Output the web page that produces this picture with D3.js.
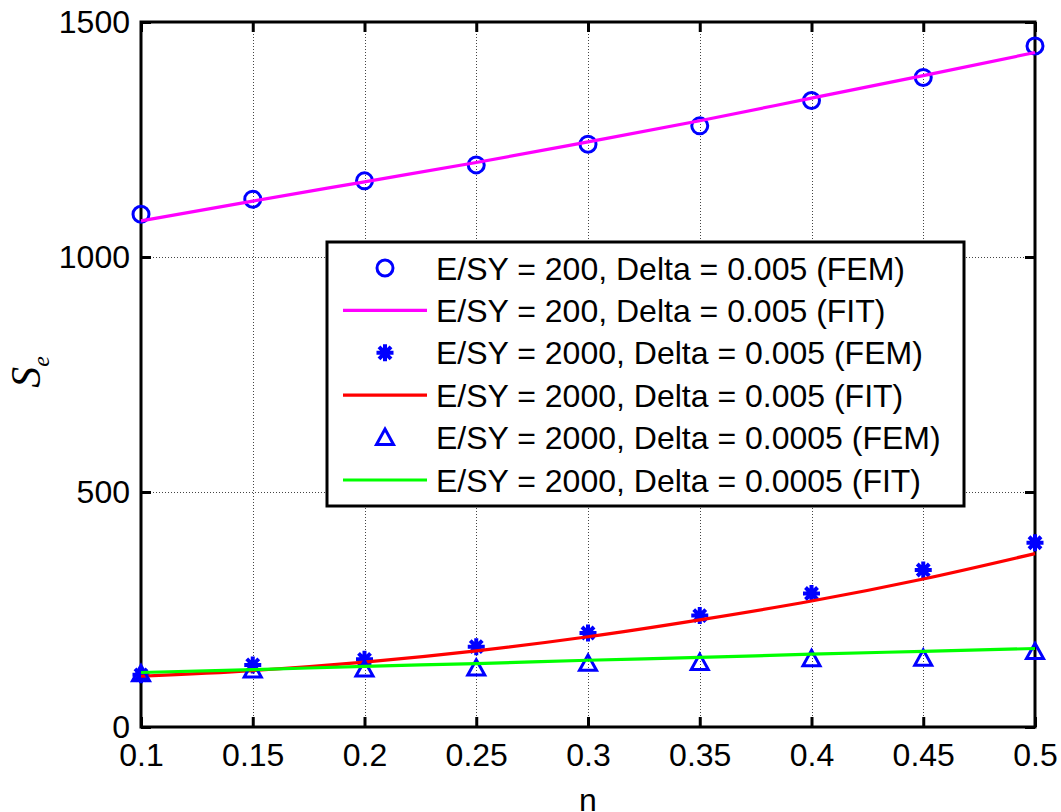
<!DOCTYPE html>
<html>
<head>
<meta charset="utf-8">
<script src="https://cdn.jsdelivr.net/npm/d3@7"></script>
<style>
  html, body { margin: 0; padding: 0; background: #fff; }
  svg { display: block; font-family: "Liberation Sans", Arial, sans-serif; }
</style>
</head>
<body>
<svg id="chart" width="1061" height="812"></svg>
<script>
// Hardening exponent n on the x axis
const nValues = [0.1, 0.15, 0.2, 0.25, 0.3, 0.35, 0.4, 0.45, 0.5];

// E/SY = 200, Delta = 0.005
const femA = [1091, 1123, 1162, 1196, 1240, 1279, 1333, 1382, 1449];
const fitA = [1077, 1119, 1160, 1201, 1245, 1290, 1338, 1386, 1435];

// E/SY = 2000, Delta = 0.005
const femB = [111, 132, 144, 171, 200, 237, 284, 334, 392];
const fitB = [108, 120, 138, 162, 192, 228, 268, 315, 369];

// E/SY = 2000, Delta = 0.0005
const femC = [113, 121, 123, 125, 135, 137, 145, 146, 160];
const fitC = [116, 122, 129, 135, 142, 148, 155, 161, 167];

const xTicks = [0.1, 0.15, 0.2, 0.25, 0.3, 0.35, 0.4, 0.45, 0.5];
const yTicks = [0, 500, 1000, 1500];

const legendLabels = [
  "E/SY = 200, Delta = 0.005 (FEM)",
  "E/SY = 200, Delta = 0.005 (FIT)",
  "E/SY = 2000, Delta = 0.005 (FEM)",
  "E/SY = 2000, Delta = 0.005 (FIT)",
  "E/SY = 2000, Delta = 0.0005 (FEM)",
  "E/SY = 2000, Delta = 0.0005 (FIT)"
];

const plot = { left: 141, right: 1035, top: 22, bottom: 727 };
const svg = d3.select("#chart");

const x = d3.scaleLinear().domain([0.1, 0.5]).range([plot.left, plot.right]);
const y = d3.scaleLinear().domain([0, 1500]).range([plot.bottom, plot.top]);

// dotted grid
const grid = svg.append("g").attr("stroke", "#444").attr("stroke-width", 1)
  .attr("stroke-dasharray", "1,2");
grid.selectAll("line.vx").data(xTicks.slice(1, -1)).join("line")
  .attr("x1", d => Math.round(x(d)) + 0.5).attr("x2", d => Math.round(x(d)) + 0.5)
  .attr("y1", plot.top).attr("y2", plot.bottom);
grid.selectAll("line.hy").data(yTicks.slice(1, -1)).join("line")
  .attr("x1", plot.left).attr("x2", plot.right)
  .attr("y1", d => Math.round(y(d)) + 0.5).attr("y2", d => Math.round(y(d)) + 0.5);

// axes with inward ticks on all four sides
const fmtX = d => String(d);
const axB = svg.append("g").attr("transform", `translate(0,${plot.bottom})`)
  .call(d3.axisBottom(x).tickValues(xTicks).tickFormat(fmtX).tickSize(-10).tickPadding(16));
const axT = svg.append("g").attr("transform", `translate(0,${plot.top})`)
  .call(d3.axisTop(x).tickValues(xTicks).tickFormat("").tickSize(-10));
const axL = svg.append("g").attr("transform", `translate(${plot.left},0)`)
  .call(d3.axisLeft(y).tickValues(yTicks).tickFormat(d3.format("d")).tickSize(-10).tickPadding(11));
const axR = svg.append("g").attr("transform", `translate(${plot.right},0)`)
  .call(d3.axisRight(y).tickValues(yTicks).tickFormat("").tickSize(-10));

[axB, axT, axL, axR].forEach(a => {
  a.select(".domain").remove();
  a.selectAll(".tick line").attr("stroke", "#000").attr("stroke-width", 3);
  a.selectAll(".tick text").attr("fill", "#000").attr("font-size", 32)
    .attr("font-family", "'Liberation Sans', Arial, sans-serif");
});

// frame
svg.append("rect")
  .attr("x", plot.left).attr("y", plot.top)
  .attr("width", plot.right - plot.left).attr("height", plot.bottom - plot.top)
  .attr("fill", "none").attr("stroke", "#000").attr("stroke-width", 3);

// marker painters
function circleMarker(g) {
  g.append("circle").attr("r", 8).attr("fill", "none")
    .attr("stroke", "#0000ff").attr("stroke-width", 3);
}
function starMarker(g) {
  const r = 8.5;
  const k = r * Math.SQRT1_2;
  g.append("path").attr("fill", "none").attr("stroke", "#0000ff")
    .attr("stroke-width", 4).attr("stroke-linecap", "butt")
    .attr("d", `M${-r},0H${r}M0,${-r}V${r}M${-k},${-k}L${k},${k}M${-k},${k}L${k},${-k}`);
}
function triangleMarker(g) {
  const s = 8.5;
  g.append("path")
    .attr("d", `M0,${-s}L${s},${s * 0.8}L${-s},${s * 0.8}Z`)
    .attr("fill", "none").attr("stroke", "#0000ff").attr("stroke-width", 3)
    .attr("stroke-linejoin", "miter");
}

const lineGen = vals => d3.line()
  .x((d, i) => x(nValues[i]))
  .y(d => y(d))
  .curve(d3.curveMonotoneX)(vals);

function drawMarkers(vals, painter) {
  const g = svg.append("g");
  vals.forEach((v, i) => {
    const m = g.append("g").attr("transform", `translate(${x(nValues[i])},${y(v)})`);
    painter(m);
  });
}
function drawFit(vals, color) {
  svg.append("path").attr("d", lineGen(vals))
    .attr("fill", "none").attr("stroke", color).attr("stroke-width", 3.2);
}

const series = [
  { type: "marker", vals: femA, painter: circleMarker },
  { type: "line", vals: fitA, color: "#ff00ff" },
  { type: "marker", vals: femB, painter: starMarker },
  { type: "line", vals: fitB, color: "#ff0000" },
  { type: "marker", vals: femC, painter: triangleMarker },
  { type: "line", vals: fitC, color: "#00ff00" }
];

series.forEach(s => {
  if (s.type === "marker") drawMarkers(s.vals, s.painter);
  else drawFit(s.vals, s.color);
});

// legend
const leg = { x: 327, y: 242, w: 637, h: 264, row0: 268, rowStep: 42.4 };
const lg = svg.append("g");
lg.append("rect").attr("x", leg.x).attr("y", leg.y).attr("width", leg.w).attr("height", leg.h)
  .attr("fill", "#fff").attr("stroke", "#000").attr("stroke-width", 3);
series.forEach((s, i) => {
  const cy = leg.row0 + i * leg.rowStep;
  if (s.type === "marker") {
    const m = lg.append("g").attr("transform", `translate(385,${cy})`);
    s.painter(m);
  } else {
    lg.append("line").attr("x1", 343).attr("x2", 427).attr("y1", cy).attr("y2", cy)
      .attr("stroke", s.color).attr("stroke-width", 3.2);
  }
  lg.append("text").attr("x", 436).attr("y", cy).attr("dy", "0.36em")
    .attr("font-size", 32).attr("fill", "#000").text(legendLabels[i]);
});

// axis titles
svg.append("text").attr("x", (plot.left + plot.right) / 2).attr("y", 811)
  .attr("text-anchor", "middle").attr("font-size", 32).attr("fill", "#000").text("n");

const yl = svg.append("text")
  .attr("transform", "translate(40,372) rotate(-90)")
  .attr("text-anchor", "middle").attr("fill", "#000")
  .attr("font-family", "'Liberation Serif', 'Times New Roman', serif")
  .attr("font-style", "italic");
yl.append("tspan").attr("font-size", 42).text("S");
yl.append("tspan").attr("font-size", 24).attr("dy", 9).text("e");
</script>
</body>
</html>
